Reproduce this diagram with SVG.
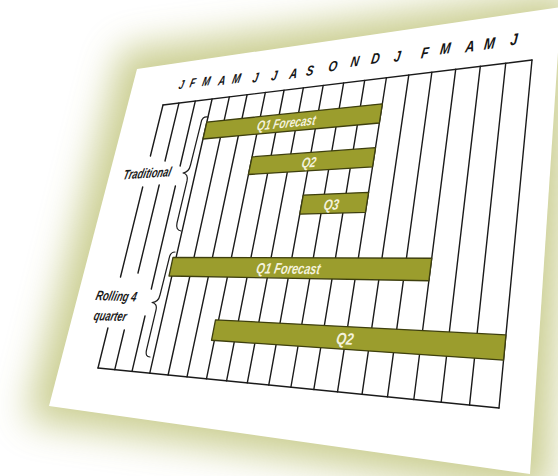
<svg xmlns="http://www.w3.org/2000/svg" width="558" height="476" viewBox="0 0 558 476">
<style>
.gl{stroke:#1a1a1a;stroke-width:1.4;fill:none;stroke-linecap:round}
.bar{fill:#9b9d2d;stroke:#3e3f0e;stroke-width:1.3;stroke-linejoin:round}
.bt{font-family:"Liberation Sans",Arial,sans-serif;font-weight:bold;font-style:italic;font-size:14px;fill:#f4f2dc;text-anchor:middle}
.mt{font-family:"Liberation Sans",Arial,sans-serif;font-weight:bold;font-style:italic;font-size:14px;fill:#151515;text-anchor:middle}
.lb{font-family:"Liberation Sans",Arial,sans-serif;font-weight:bold;font-style:italic;font-size:14px;fill:#1a1a1a}
.br{stroke:#1e1e1e;stroke-width:1.2;fill:none;stroke-linecap:round;stroke-linejoin:round}
</style>
<defs>
<filter id="blur" x="-30%" y="-30%" width="160%" height="160%"><feGaussianBlur stdDeviation="18"/></filter>
</defs>
<rect width="558" height="476" fill="#ffffff"/>
<g id="paper">
<polygon points="122,50 575,-10 548,496 26,420" fill="#a8ae4a" opacity="0.6" filter="url(#blur)"/>
<polygon points="137,69 561,7 530,474 49,406" fill="#ffffff"/>
</g>
<g id="grid">
<line class="gl" x1="163" y1="105" x2="532" y2="60"/>
<line class="gl" x1="98" y1="368" x2="499" y2="408"/>
<polyline class="gl" points="163,105 150.4,156"/>
<polyline class="gl" points="142.7,187 120.5,277"/>
<polyline class="gl" points="107.9,328 98,368"/>
<polyline class="gl" points="178.93,103.06 165,161"/>
<polyline class="gl" points="159.2,185 138,273"/>
<polyline class="gl" points="124.3,330 114.76,369.67"/>
<polyline class="gl" points="195.29,101.06 180.1,166"/>
<polyline class="gl" points="175.4,186 151.3,289"/>
<polyline class="gl" points="145,316 132.02,371.4"/>
<line class="gl" x1="212.08" y1="99.01" x2="149.79" y2="373.17"/>
<line class="gl" x1="229.34" y1="96.91" x2="168.1" y2="375"/>
<line class="gl" x1="247.07" y1="94.75" x2="186.99" y2="376.88"/>
<line class="gl" x1="265.3" y1="92.53" x2="206.46" y2="378.82"/>
<line class="gl" x1="284.04" y1="90.24" x2="226.56" y2="380.83"/>
<line class="gl" x1="303.33" y1="87.89" x2="247.31" y2="382.9"/>
<line class="gl" x1="323.18" y1="85.47" x2="268.74" y2="385.03"/>
<line class="gl" x1="343.63" y1="82.97" x2="290.9" y2="387.25"/>
<line class="gl" x1="364.69" y1="80.41" x2="313.8" y2="389.53"/>
<line class="gl" x1="386.39" y1="77.76" x2="337.5" y2="391.89"/>
<line class="gl" x1="408.77" y1="75.03" x2="362.04" y2="394.34"/>
<line class="gl" x1="431.86" y1="72.22" x2="387.47" y2="396.88"/>
<line class="gl" x1="455.69" y1="69.31" x2="413.82" y2="399.51"/>
<line class="gl" x1="480.3" y1="66.31" x2="441.16" y2="402.24"/>
<line class="gl" x1="505.72" y1="63.21" x2="469.53" y2="405.07"/>
<line class="gl" x1="532" y1="60" x2="499" y2="408"/>
</g>
<g id="months">
<text class="mt" transform="matrix(0.640,-0.086,-0.219,0.901,181.6,84.5)" y="5">J</text>
<text class="mt" transform="matrix(0.658,-0.089,-0.217,0.916,193,82.5)" y="5">F</text>
<text class="mt" transform="matrix(0.677,-0.091,-0.215,0.931,206.5,81)" y="5">M</text>
<text class="mt" transform="matrix(0.694,-0.094,-0.212,0.946,222,80.3)" y="5">A</text>
<text class="mt" transform="matrix(0.713,-0.097,-0.208,0.960,236.7,78.5)" y="5">M</text>
<text class="mt" transform="matrix(0.731,-0.099,-0.204,0.975,255.5,77.5)" y="5">J</text>
<text class="mt" transform="matrix(0.750,-0.102,-0.200,0.990,274.5,75.5)" y="5">J</text>
<text class="mt" transform="matrix(0.768,-0.104,-0.195,1.005,293.5,73.5)" y="5">A</text>
<text class="mt" transform="matrix(0.787,-0.106,-0.190,1.021,310,70.5)" y="5">S</text>
<text class="mt" transform="matrix(0.805,-0.109,-0.184,1.036,333,66)" y="5">O</text>
<text class="mt" transform="matrix(0.823,-0.111,-0.178,1.051,355,61.3)" y="5">N</text>
<text class="mt" transform="matrix(0.842,-0.114,-0.171,1.066,375.5,58)" y="5">D</text>
<text class="mt" transform="matrix(0.860,-0.116,-0.163,1.082,397.5,56)" y="5">J</text>
<text class="mt" transform="matrix(0.878,-0.119,-0.155,1.097,425,52.5)" y="5">F</text>
<text class="mt" transform="matrix(0.896,-0.122,-0.147,1.111,445.5,48.3)" y="5">M</text>
<text class="mt" transform="matrix(0.914,-0.124,-0.137,1.127,470,46.3)" y="5">A</text>
<text class="mt" transform="matrix(0.933,-0.126,-0.127,1.142,489.6,43.3)" y="5">M</text>
<text class="mt" transform="matrix(0.951,-0.128,-0.116,1.157,514,39.2)" y="5">J</text>
</g>
<g id="trad-q1">
<polygon class="bar" points="206.84,122.11 382.34,103.84 379.36,122.98 202.99,139.02"/>
<text class="bt" transform="matrix(0.725,-0.071,-0.190,0.982,286.5,122.7)" y="5">Q1 Forecast</text>
</g>
<g id="trad-q2">
<polygon class="bar" points="252.08,156.83 375.51,147.71 372.51,166.97 248.46,174.48"/>
<text class="bt" transform="matrix(0.77,-0.052,-0.184,1.013,309,162.3)" y="5">Q2</text>
</g>
<g id="trad-q3">
<polygon class="bar" points="303.26,195.12 368.57,192.32 365.46,212.29 299.79,214.18"/>
<text class="bt" transform="matrix(0.81,-0.029,-0.180,1.065,331.5,204.5)" y="5">Q3</text>
</g>
<g id="roll-q1">
<polygon class="bar" points="173,257.4 431.73,258.27 428.88,280.77 169,275.99"/>
<text class="bt" transform="matrix(0.79,0.0083,-0.197,1.082,288.5,268.3)" y="5">Q1 Forecast</text>
</g>
<g id="roll-q2">
<polygon class="bar" points="215.5,319.86 505.94,334.93 503.54,360.13 211.5,340.26"/>
<text class="bt" transform="matrix(0.915,0.056,-0.185,1.186,345,338.5)" y="5">Q2</text>
</g>
<g id="traditional">
<path class="br" d="M208,117 Q202,116 201,123 L190.5,165 Q189,172 183,173 Q188.5,174 187,181 L177,223 Q175.5,230 181,231"/>
<text class="lb" style="text-anchor:middle" transform="matrix(0.67,-0.044,-0.243,0.970,147.5,173)" y="5">Traditional</text>
</g>
<g id="rolling">
<path class="br" d="M175,252 Q170,252 169,259 L160,295 Q158.5,302 152,302.5 Q157.5,303.5 156,310 L146.5,350 Q145,357 150,357"/>
<text class="lb" transform="matrix(0.69,0.025,-0.243,0.970,95,300)">Rolling 4</text>
<text class="lb" transform="matrix(0.67,0.024,-0.243,0.970,93,320)">quarter</text>
</g>
</svg>
